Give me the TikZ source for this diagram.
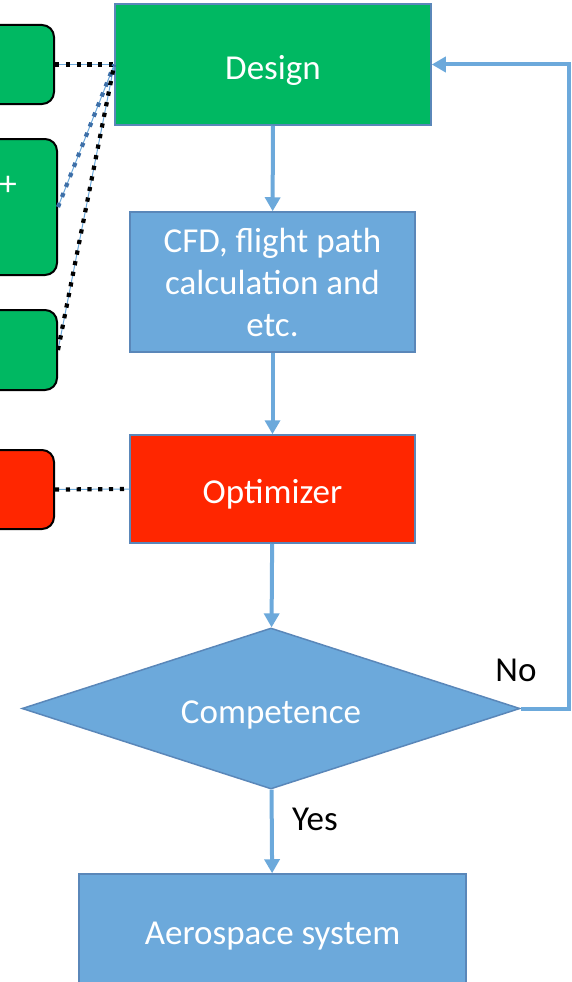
\documentclass[tikz,border=0pt]{standalone}
\usepackage{fontspec}
\setmainfont{Carlito}
\usetikzlibrary{arrows.meta}
\usetikzlibrary{shapes.geometric}
\usepackage{xcolor}

\definecolor{designgreen}{HTML}{00B862}
\definecolor{procblue}{HTML}{6CA9DB}
\definecolor{optred}{HTML}{FF2600}
\definecolor{edgeblue}{HTML}{5A87B9}
\definecolor{linkblue}{HTML}{3D6FA8}

\tikzset{
    procbox/.style={draw=edgeblue, line width=1.5pt, text=white,
        inner sep=0pt, align=center,
        font=\fontsize{35}{42}\selectfont},
    oneline/.style={text height=29pt, text depth=0pt},
    decision/.style={diamond, draw=edgeblue, line width=1.5pt, fill=procblue,
        text=white, inner sep=0pt, aspect=3.09, oneline,
        font=\fontsize{35}{42}\selectfont},
    sidebox/.style={draw=black, line width=2pt, rounded corners=12pt,
        minimum width=110pt, anchor=east},
    flow/.style={draw=procblue, line width=4pt,
        -{Triangle[width=15pt,length=14pt]}},
    linkbase/.style={draw=procblue, line width=1pt},
    link/.style={line width=4.2pt, dash pattern=on 4.2pt off 6.6pt},
    tag/.style={font=\fontsize{35}{42}\selectfont}
}

\begin{document}
\begin{tikzpicture}[x=1pt,y=-1pt]
    \useasboundingbox (0,0) rectangle (572,982);
    \clip (0,0) rectangle (572,982);

    % main chain
    \node[procbox, oneline, fill=designgreen, minimum width=316pt, minimum height=121pt]
        (design) at (273,64.5) {Design};
    \node[procbox, fill=procblue, minimum width=285pt, minimum height=140pt]
        (calc) at (272.5,282) {CFD, flight path\\calculation and\\etc.};
    \node[procbox, oneline, fill=optred, minimum width=285pt, minimum height=108pt]
        (optim) at (272.5,489) {Optimizer};
    \node[decision, minimum width=498pt, minimum height=161pt]
        (comp) at (271,708.5) {Competence};
    \node[procbox, oneline, fill=procblue, minimum width=387pt, minimum height=112pt]
        (aero) at (272.5,930) {Aerospace system};

    % inputs on the left
    \node[sidebox, fill=designgreen, minimum height=79pt] (inA) at (55,64.5) {};
    \node[sidebox, fill=designgreen, minimum height=136pt] (inB) at (58,207) {};
    \node[sidebox, fill=designgreen, minimum height=80pt] (inC) at (58,350) {};
    \node[sidebox, fill=optred, minimum height=79pt] (inD) at (55,489.5) {};
    \node[tag, text=white] (plus) at (8,186) {+};

    \draw[linkbase] (inA.east) -- (design.west);
    \draw[linkbase] (inB.east) -- (design.west);
    \draw[linkbase] (inC.east) -- (design.west);
    \draw[linkbase] (inD.east) -- (optim.west);
    \draw[link, black] (inA.east) -- (design.west);
    \draw[link, linkblue] (inB.east) -- (design.west);
    \draw[link, black] (inC.east) -- (design.west);
    \draw[link, black] (inD.east) -- (optim.west);

    % flow
    \draw[flow] (design) -- (calc);
    \draw[flow] (calc) -- (optim);
    \draw[flow] (optim) -- (comp);
    \draw[flow] (comp) -- (aero);
    \draw[flow] (comp.east) -- ++(48,0) |- (design.east);

    \node[tag] (yes) at (315,819) {Yes};
    \node[tag] (no) at (516,670) {No};
\end{tikzpicture}
\end{document}
